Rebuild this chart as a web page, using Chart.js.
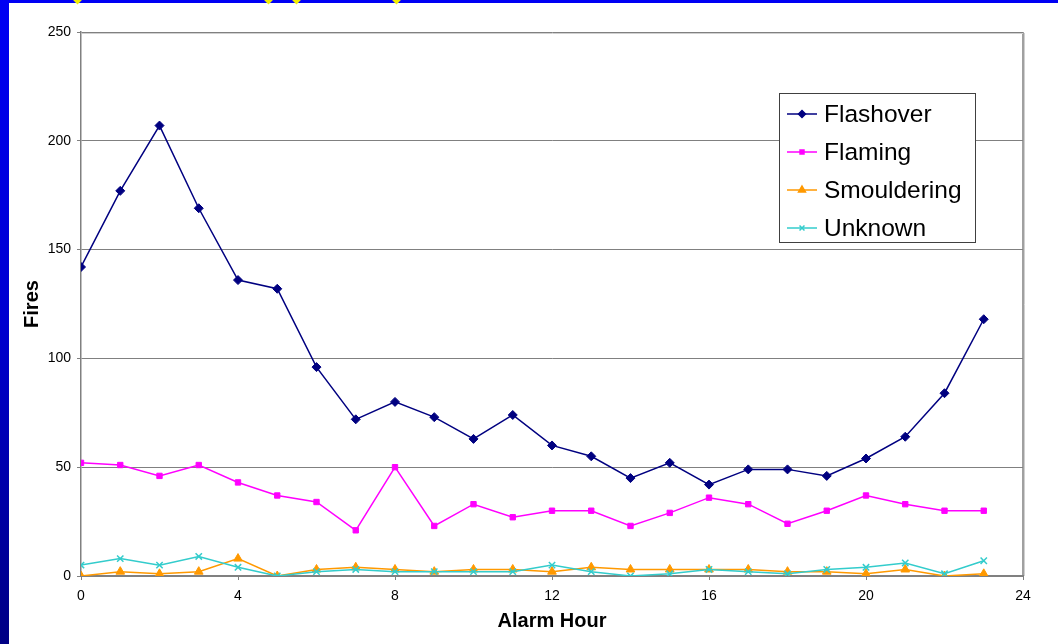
<!DOCTYPE html>
<html>
<head>
<meta charset="utf-8">
<script src="https://cdn.jsdelivr.net/npm/chart.js@4.4.1/dist/chart.umd.min.js"></script>
<style>
  html, body { margin: 0; padding: 0; }
  body {
    width: 1058px; height: 644px; overflow: hidden; position: relative;
    background: linear-gradient(to bottom, #0000f4 0%, #0000d0 50%, #000084 100%);
  }
  #sheet { position: absolute; left: 9px; top: 3px; right: 0; bottom: 0; background: #ffffff; }
  .spark { position: absolute; top: -4px; width: 7px; height: 7px; background: #f2ee00; transform: rotate(45deg); }
  #chart { position: absolute; left: 0; top: 0; }
</style>
</head>
<body>
<div id="sheet"></div>
<div class="spark" style="left:74px"></div>
<div class="spark" style="left:265px"></div>
<div class="spark" style="left:293px"></div>
<div class="spark" style="left:393px"></div>
<canvas id="chart" width="1058" height="644"></canvas>
<script>
// Fires by hour of alarm, split by fire development stage
const hours = [0, 1, 2, 3, 4, 5, 6, 7, 8, 9, 10, 11, 12, 13, 14, 15, 16, 17, 18, 19, 20, 21, 22, 23];
const flashover   = [142, 177, 207, 169, 136, 132, 96, 72, 80, 73, 63, 74, 60, 55, 45, 52, 42, 49, 49, 46, 54, 64, 84, 118];
const flaming     = [52, 51, 46, 51, 43, 37, 34, 21, 50, 23, 33, 27, 30, 30, 23, 29, 36, 33, 24, 30, 37, 33, 30, 30];
const smouldering = [0, 2, 1, 2, 8, 0, 3, 4, 3, 2, 3, 3, 2, 4, 3, 3, 3, 3, 2, 2, 1, 3, 0, 1];
const unknown     = [5, 8, 5, 9, 4, 0, 2, 3, 2, 2, 2, 2, 5, 2, 0, 1, 3, 2, 1, 3, 4, 6, 1, 7];
const seriesNames = ['Flashover', 'Flaming', 'Smouldering', 'Unknown'];
const xTitle = 'Alarm Hour';
const yTitle = 'Fires';

const FONT = "'Liberation Sans', Arial, sans-serif";
const GRID = '#808080';

function points(values) {
  return hours.map((h, i) => ({ x: h, y: values[i] }));
}

function series(label, values, color, style, radius, order) {
  return {
    label,
    data: points(values),
    borderColor: color,
    backgroundColor: color,
    borderWidth: 1.5,
    pointStyle: style,
    pointRadius: radius,
    pointHoverRadius: radius,
    pointBorderWidth: style === 'crossRot' ? 1.5 : 1,
    pointBorderColor: color,
    pointBackgroundColor: color,
    tension: 0,
    order
  };
}

// Legend box drawn inside the plot, with a line sample and marker per series
const boxLegend = {
  id: 'boxLegend',
  afterDatasetsDraw(chart) {
    const ctx = chart.ctx;
    const left = 779, top = 93, right = 975, bottom = 242;
    ctx.save();
    ctx.fillStyle = '#ffffff';
    ctx.fillRect(left, top, right - left, bottom - top);
    ctx.strokeStyle = '#404040';
    ctx.lineWidth = 1;
    ctx.strokeRect(left + 0.5, top + 0.5, right - left, bottom - top);
    const rows = [114, 152, 190, 228];
    chart.data.datasets.forEach((ds, i) => {
      const y = rows[i];
      ctx.strokeStyle = ds.borderColor;
      ctx.lineWidth = 1.5;
      ctx.beginPath();
      ctx.moveTo(787, y);
      ctx.lineTo(817, y);
      ctx.stroke();
      ctx.fillStyle = ds.pointBackgroundColor;
      ctx.strokeStyle = ds.pointBorderColor;
      Chart.helpers.drawPoint(ctx, {
        pointStyle: ds.pointStyle,
        radius: ds.pointRadius - 1,
        rotation: 0,
        borderWidth: ds.pointBorderWidth
      }, 802, y);
      ctx.fillStyle = '#000000';
      ctx.font = '24.5px ' + FONT;
      ctx.textBaseline = 'alphabetic';
      ctx.textAlign = 'left';
      ctx.fillText(ds.label, 824, y + 8);
    });
    ctx.restore();
  }
};

// Right edge of the plot frame with its light shadow
const plotFrame = {
  id: 'plotFrame',
  beforeDatasetsDraw(chart) {
    const a = chart.chartArea;
    const ctx = chart.ctx;
    ctx.save();
    ctx.strokeStyle = GRID;
    ctx.lineWidth = 1.5;
    ctx.beginPath();
    ctx.moveTo(a.right, a.top);
    ctx.lineTo(a.right, a.bottom);
    ctx.stroke();
    ctx.strokeStyle = '#d0d0d0';
    ctx.lineWidth = 1;
    ctx.beginPath();
    ctx.moveTo(a.right + 1.5, a.top + 1);
    ctx.lineTo(a.right + 1.5, a.bottom);
    ctx.moveTo(a.left + 1, a.top + 1.5);
    ctx.lineTo(a.right, a.top + 1.5);
    ctx.stroke();
    ctx.restore();
  }
};

new Chart(document.getElementById('chart'), {
  type: 'line',
  data: {
    datasets: [
      series(seriesNames[0], flashover, '#000080', 'rectRot', 4.5, 3),
      series(seriesNames[1], flaming, '#ff00ff', 'rect', 3.8, 2),
      series(seriesNames[2], smouldering, '#ff9900', 'triangle', 5, 1),
      series(seriesNames[3], unknown, '#33cccc', 'crossRot', 4.5, 0)
    ]
  },
  options: {
    responsive: false,
    animation: false,
    events: [],
    layout: { padding: { left: 0, top: 32, right: 35, bottom: 0 } },
    plugins: {
      legend: { display: false },
      tooltip: { enabled: false }
    },
    scales: {
      x: {
        type: 'linear',
        min: 0,
        max: 24,
        afterFit(scale) { scale.height = 68; },
        ticks: {
          stepSize: 4,
          color: '#000000',
          font: { family: FONT, size: 14 },
          padding: 8,
          maxRotation: 0
        },
        grid: {
          drawOnChartArea: false,
          drawTicks: true,
          tickLength: 4,
          color: GRID,
          lineWidth: 1
        },
        border: { display: true, color: GRID, width: 2 },
        title: {
          display: true,
          text: xTitle,
          color: '#000000',
          font: { family: FONT, size: 20, weight: 'bold' },
          padding: { top: 0, bottom: 11 }
        }
      },
      y: {
        type: 'linear',
        min: 0,
        max: 250,
        afterFit(scale) { scale.width = 81; },
        ticks: {
          stepSize: 50,
          color: '#000000',
          font: { family: FONT, size: 14 },
          padding: 6
        },
        grid: {
          drawOnChartArea: true,
          drawTicks: true,
          tickLength: 4,
          color: GRID,
          lineWidth: 1
        },
        border: { display: true, color: GRID, width: 1.5 },
        title: {
          display: true,
          text: yTitle,
          color: '#000000',
          font: { family: FONT, size: 20, weight: 'bold' },
          padding: { top: 20, bottom: 0 }
        }
      }
    }
  },
  plugins: [plotFrame, boxLegend]
});
</script>
</body>
</html>
